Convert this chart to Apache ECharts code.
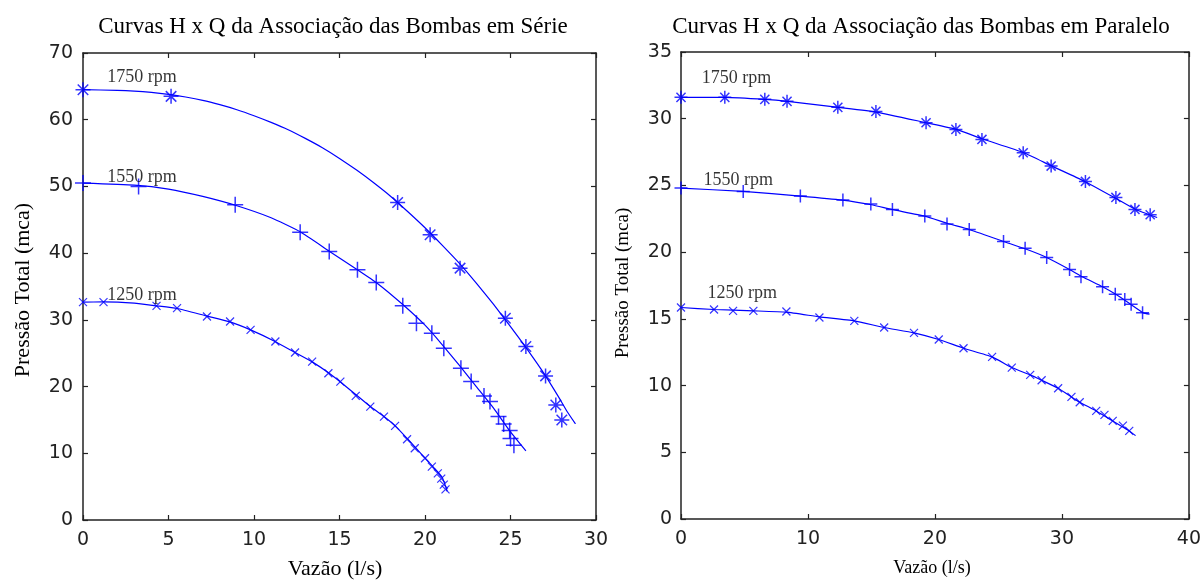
<!DOCTYPE html>
<html><head><meta charset="utf-8">
<script src="https://cdn.jsdelivr.net/npm/echarts@6/dist/echarts.min.js"></script>
<style>html,body{margin:0;padding:0;background:#fff}#c{width:1204px;height:580px}</style>
</head><body><div id="c"></div><script>
// ---------- data: left chart (Série) ----------
const serieCurve1750 = [[0,64.5],[2,64.4],[3,64.3],[4,64.1],[5,63.8],[6,63.4],[7,62.9],[8,62.25],[9,61.5],[10,60.6],[11,59.6],[12,58.5],[13,57.2],[14,55.8],[15,54.2],[16,52.45],[17,50.55],[18,48.5],[19,46.2],[20,43.8],[21,41.2],[22,38.5],[23,35.5],[24,32.35],[25,29.0],[26,25.5],[27,21.8],[27.8,18.5],[28.3,16.3],[28.8,14.4]];
const seriePts1750 = [[0,64.5],[5.15,63.5],[18.4,47.6],[20.3,42.75],[22.05,37.75],[24.7,30.25],[25.9,26.0],[27.05,21.6],[27.65,17.25],[28.0,15.0]];
const serieCurve1550 = [[0,50.5],[3,50.2],[5,49.6],[7,48.5],[9,47.1],[11,45.3],[12.7,43.2],[14.4,40.3],[16,37.6],[17.2,35.5],[18.7,32.3],[20,29.2],[21,26.3],[22,23.2],[23,20.0],[24,16.8],[25,13.2],[25.9,10.35]];
const seriePts1550 = [[0,50.5],[3.25,50.0],[8.9,47.25],[12.7,43.15],[14.4,40.25],[16.05,37.5],[17.15,35.6],[18.7,32.1],[19.5,29.5],[20.4,28.0],[21.1,25.75],[22.1,22.75],[22.7,20.75],[23.45,18.6],[23.8,17.75],[24.3,15.5],[24.6,14.4],[24.95,13.4],[25.0,12.2],[25.2,11.2]];
const serieCurve1250 = [[0,32.65],[1.2,32.7],[3,32.5],[4.3,32.1],[5.5,31.7],[7.2,30.6],[8.6,29.7],[9.8,28.5],[11.2,26.8],[12.4,25.1],[13.4,23.7],[14.4,22.0],[15,20.8],[16,18.7],[16.8,17.0],[17.6,15.5],[18.3,14.0],[19,12.1],[19.5,10.7],[20,9.3],[20.5,7.9],[21,6.4],[21.3,4.3]];
const seriePts1250 = [[0,32.65],[1.2,32.65],[4.3,32.1],[5.5,31.75],[7.25,30.5],[8.6,29.75],[9.8,28.5],[11.25,26.75],[12.4,25.1],[13.4,23.75],[14.35,22.0],[15.05,20.75],[15.95,18.6],[16.8,17.0],[17.6,15.5],[18.25,14.1],[18.95,12.1],[19.4,10.75],[20.0,9.25],[20.4,8.0],[20.75,7.0],[20.95,6.2],[21.1,5.3],[21.2,4.6]];
// ---------- data: right chart (Paralelo) ----------
const paraCurve1750 = [[0,31.6],[3.5,31.6],[6.6,31.45],[8.4,31.3],[12.4,30.85],[15.4,30.5],[19.3,29.7],[21.7,29.2],[23.7,28.5],[27,27.45],[29.1,26.5],[31.8,25.3],[34.3,24.0],[35.8,23.2],[37.5,22.6]];
const paraPts1750 = [[0,31.6],[3.45,31.6],[6.6,31.45],[8.35,31.3],[12.35,30.85],[15.35,30.55],[19.3,29.7],[21.65,29.2],[23.7,28.45],[26.95,27.45],[29.15,26.45],[31.85,25.3],[34.25,24.1],[35.75,23.2],[36.95,22.8]];
const paraCurve1550 = [[0,24.8],[4.9,24.55],[9.4,24.2],[12.7,23.9],[15,23.55],[16.6,23.2],[19.2,22.7],[21,22.15],[22.7,21.7],[25.4,20.8],[27.1,20.25],[28.8,19.6],[30.6,18.7],[31.6,18.15],[33.2,17.4],[34.3,16.8],[35.4,16.1],[36.4,15.45],[36.9,15.35]];
const paraPts1550 = [[0,24.8],[4.9,24.55],[9.4,24.2],[12.75,23.9],[14.95,23.6],[16.65,23.2],[19.2,22.7],[20.95,22.1],[22.7,21.7],[25.4,20.8],[27.1,20.3],[28.8,19.6],[30.6,18.7],[31.5,18.15],[33.2,17.4],[34.2,16.85],[34.95,16.45],[35.45,16.1],[36.35,15.45]];
const paraCurve1250 = [[0,15.85],[2.6,15.7],[5.7,15.6],[8.3,15.5],[10.9,15.15],[13.65,14.85],[16,14.35],[18.35,13.95],[20.3,13.45],[22.25,12.8],[24.5,12.15],[26.05,11.35],[27.5,10.8],[28.4,10.4],[29.7,9.8],[30.75,9.15],[31.4,8.75],[32.7,8.1],[34,7.35],[35.3,6.6],[35.8,6.25]];
const paraPts1250 = [[0,15.85],[2.6,15.7],[4.1,15.6],[5.7,15.6],[8.3,15.55],[10.9,15.1],[13.65,14.85],[16,14.35],[18.35,13.95],[20.3,13.45],[22.25,12.8],[24.5,12.15],[26.05,11.35],[27.5,10.8],[28.4,10.4],[29.7,9.8],[30.75,9.15],[31.4,8.75],[32.7,8.1],[33.35,7.8],[34,7.35],[34.8,7.0],[35.3,6.6]];
// ---------- texts ----------
const rpmNames = ['1750 rpm','1550 rpm','1250 rpm'];
const titles = ['Curvas H x Q da Associação das Bombas em Série','Curvas H x Q da Associação das Bombas em Paralelo'];
const yName = 'Pressão Total (mca)';
const xName = 'Vazão (l/s)';
// label anchors in data units
const serieLabelAt = [[1.42,66.4],[1.42,51.3],[1.42,33.75]];
const paraLabelAt = [[1.64,33.0],[1.77,25.37],[2.08,16.9]];

const BLUE = '#0000ff';
const SERIF = 'Liberation Serif';
const SANS = 'DejaVu Sans';
const ASTER = 'path://M0,-10L0,10M-10,0L10,0M-7,-7L7,7M-7,7L7,-7';
const PLUS = 'path://M0,-10L0,10M-10,0L10,0';
const CROSS = 'path://M-10,-10L10,10M-10,10L10,-10';

function xAx(grid, max, interval, pos, showLabel) {
  return {type:'value', gridIndex:grid, min:0, max:max, interval:interval, position:pos,
    axisLine:{show:true, onZero:false, lineStyle:{color:'#222', width:1.5}},
    axisTick:{show:true, inside:true, length:5, lineStyle:{color:'#222', width:1.2}},
    axisLabel:{show:showLabel, margin:11, color:'#222', fontFamily:SANS, fontSize:19},
    splitLine:{show:false}};
}
function yAx(grid, max, interval, pos, showLabel, margin) {
  return {type:'value', gridIndex:grid, min:0, max:max, interval:interval, position:pos,
    axisLine:{show:true, onZero:false, lineStyle:{color:'#222', width:1.5}},
    axisTick:{show:true, inside:true, length:5, lineStyle:{color:'#222', width:1.2}},
    axisLabel:{show:showLabel, margin:margin, color:'#222', fontFamily:SANS, fontSize:19},
    splitLine:{show:false}};
}
function curve(data, xi, yi) {
  return {type:'line', data:data, xAxisIndex:xi, yAxisIndex:yi, showSymbol:false, smooth:0.15,
    lineStyle:{color:BLUE, width:1.2}, silent:true, z:2};
}
function pts(data, xi, yi, sym, size, bw) {
  return {type:'scatter', data:data, xAxisIndex:xi, yAxisIndex:yi, symbol:sym, symbolSize:size,
    itemStyle:{color:'none', borderColor:BLUE, borderWidth:bw}, silent:true, z:3};
}
function labels(at, xi, yi, fs) {
  return {type:'scatter', xAxisIndex:xi, yAxisIndex:yi, symbolSize:0, silent:true, z:4,
    data: at.map((p,i)=>[p[0],p[1],rpmNames[i]]),
    label:{show:true, position:'right', distance:0, formatter:p=>p.data[2],
      fontFamily:SERIF, fontSize:18, color:'#000'}};
}

const chart = echarts.init(document.getElementById('c'), null, {renderer:'canvas'});
chart.setOption({
  animation:false,
  backgroundColor:'#fff',
  grid:[
    {left:83, right:608, top:53, bottom:60, containLabel:false},
    {left:681, right:12, top:52, bottom:61, containLabel:false}
  ],
  xAxis:[xAx(0,30,5,'bottom',true), xAx(0,30,5,'top',false), xAx(1,40,10,'bottom',true), xAx(1,40,10,'top',false)],
  yAxis:[yAx(0,70,10,'left',true,10), yAx(0,70,10,'right',false,10), yAx(1,35,5,'left',true,9), yAx(1,35,5,'right',false,9)],
  series:[
    curve(serieCurve1750,0,0), pts(seriePts1750,0,0,ASTER,15,1.5),
    curve(serieCurve1550,0,0), pts(seriePts1550,0,0,PLUS,16,1.5),
    curve(serieCurve1250,0,0), pts(seriePts1250,0,0,CROSS,8,1.2),
    labels(serieLabelAt,0,0,18),
    curve(paraCurve1750,2,2), pts(paraPts1750,2,2,ASTER,13,1.5),
    curve(paraCurve1550,2,2), pts(paraPts1550,2,2,PLUS,13,1.5),
    curve(paraCurve1250,2,2), pts(paraPts1250,2,2,CROSS,8,1.2),
    labels(paraLabelAt,2,2,18)
  ],
  graphic:[
    {type:'text', x:333, y:27, style:{text:titles[0], fontFamily:SERIF, fontSize:23, fill:'#000', align:'center', verticalAlign:'middle'}},
    {type:'text', x:921, y:27, style:{text:titles[1], fontFamily:SERIF, fontSize:23, fill:'#000', align:'center', verticalAlign:'middle'}},
    {type:'text', x:23, y:290, rotation:Math.PI/2, style:{text:yName, fontFamily:SERIF, fontSize:22, fill:'#000', align:'center', verticalAlign:'middle'}},
    {type:'text', x:623, y:283, rotation:Math.PI/2, style:{text:yName, fontFamily:SERIF, fontSize:19, fill:'#000', align:'center', verticalAlign:'middle'}},
    {type:'text', x:335, y:569, style:{text:xName, fontFamily:SERIF, fontSize:22, fill:'#000', align:'center', verticalAlign:'middle'}},
    {type:'text', x:932, y:568, style:{text:xName, fontFamily:SERIF, fontSize:18, fill:'#000', align:'center', verticalAlign:'middle'}}
  ]
});
</script></body></html>
